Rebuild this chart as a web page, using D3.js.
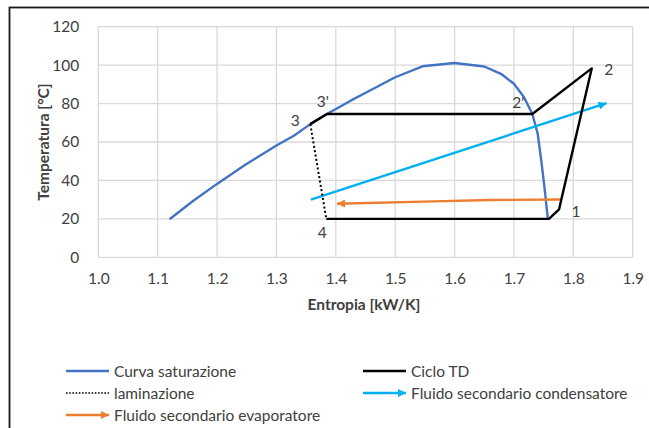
<!DOCTYPE html>
<html lang="it">
	<head>
		<meta charset="utf-8">
		<title>Diagramma T-s</title>
		<script src="https://d3js.org/d3.v7.min.js"></script>
		<style>
			body { margin: 0; background: #fff; }
			text { font-family: Lato, "Open Sans", sans-serif; fill: #404040; }
		</style>
	</head>
	<body>
		<script type="text/javascript">

			// Dati
			var satS = [1.12, 1.16, 1.20, 1.245, 1.30, 1.33, 1.357, 1.385, 1.425, 1.46, 1.50, 1.546, 1.60, 1.65, 1.678, 1.70, 1.717, 1.731, 1.740, 1.746, 1.752, 1.757];
			var satT = [19.8, 29.4, 38.2, 47.6, 58.2, 63.4, 69.3, 74.6, 81.5, 87.2, 93.7, 99.4, 101.1, 99.3, 95.5, 90.3, 83.3, 74.6, 64.3, 50.4, 34.8, 20.3];

			var cicloS = [1.384, 1.759, 1.776, 1.831, 1.731, 1.385, 1.357];
			var cicloT = [20, 20, 25, 98.3, 74.6, 74.6, 69.3];
			var puntiNomi = ["4", "1", "2", "2'", "3'", "3"];
			var puntiIdx = [0, 2, 3, 4, 5, 6];

			var lamS = [1.357, 1.384];
			var lamT = [69.3, 20];

			var condS = [1.358, 1.856];
			var condT = [30, 80.2];

			var evapS = [1.778, 1.66, 1.565, 1.402];
			var evapT = [30.1, 29.8, 29.1, 27.9];

			var xTicks = [1.0, 1.1, 1.2, 1.3, 1.4, 1.5, 1.6, 1.7, 1.8, 1.9];
			var yTicks = [0, 20, 40, 60, 80, 100, 120];

			var legendNames = ["Curva saturazione", "Ciclo TD", "laminazione", "Fluido secondario condensatore", "Fluido secondario evaporatore"];

			// Dimensioni
			var w = 649;
			var h = 428;

			var x = d3.scaleLinear().domain([1.0, 1.9]).range([98.3, 632.7]);
			var y = d3.scaleLinear().domain([0, 120]).range([257.3, 26.7]);

			var svg = d3.select("body")
						.append("svg")
						.attr("width", w)
						.attr("height", h);

			svg.append("rect")
				.attr("width", w)
				.attr("height", h)
				.attr("fill", "white");

			// bordo del grafico (esce dall'immagine a destra e in basso)
			svg.append("rect")
				.attr("x", 9.5)
				.attr("y", 7.5)
				.attr("width", 700)
				.attr("height", 500)
				.attr("fill", "none")
				.attr("stroke", "#1a1a1a")
				.attr("stroke-width", 1.8);

			// frecce
			var defs = svg.append("defs");
			[["cyanArrow", "#00B0F0"], ["orangeArrow", "#ED7D31"]].forEach(function(a) {
				defs.append("marker")
					.attr("id", a[0])
					.attr("viewBox", "0 0 10 10")
					.attr("refX", 10)
					.attr("refY", 5)
					.attr("markerUnits", "userSpaceOnUse")
					.attr("markerWidth", 10)
					.attr("markerHeight", 8)
					.attr("orient", "auto")
					.append("path")
					.attr("d", "M0,0 L10,5 L0,10 Z")
					.attr("fill", a[1]);
			});

			// griglia
			var grid = svg.append("g");
			grid.selectAll(".gx")
				.data(xTicks)
				.enter().append("line")
				.attr("x1", d => x(d)).attr("x2", d => x(d))
				.attr("y1", y(120)).attr("y2", y(0))
				.attr("stroke", "#d9d9d9").attr("stroke-width", 1.3);
			grid.selectAll(".gy")
				.data(yTicks)
				.enter().append("line")
				.attr("x1", x(1.0)).attr("x2", x(1.9))
				.attr("y1", d => y(d)).attr("y2", d => y(d))
				.attr("stroke", "#d9d9d9").attr("stroke-width", 1.3);

			// assi
			var xAxis = svg.append("g")
				.attr("transform", "translate(0," + (y(0) + 13) + ")")
				.call(d3.axisBottom(x).tickValues(xTicks).tickFormat(d3.format(".1f")).tickSize(0));
			var yAxis = svg.append("g")
				.attr("transform", "translate(" + (x(1.0) - 16) + ",0)")
				.call(d3.axisLeft(y).tickValues(yTicks).tickSize(0));
			[xAxis, yAxis].forEach(function(g) {
				g.select(".domain").remove();
				g.selectAll("text")
					.attr("font-size", 15.5)
					.attr("fill", "#404040")
					.style("font-family", "Lato, sans-serif");
			});

			svg.append("text")
				.attr("x", 364)
				.attr("y", 304)
				.attr("text-anchor", "middle")
				.attr("dominant-baseline", "central")
				.attr("font-size", 15.5)
				.attr("font-weight", "bold")
				.text("Entropia [kW/K]");

			svg.append("text")
				.attr("transform", "translate(43,142) rotate(-90)")
				.attr("text-anchor", "middle")
				.attr("dominant-baseline", "central")
				.attr("font-size", 15.5)
				.attr("font-weight", "bold")
				.text("Temperatura [°C]");

			// linee
			var line = d3.line().x(d => x(d[0])).y(d => y(d[1]));
			var plot = svg.append("g").attr("fill", "none");

			plot.append("path")
				.attr("d", line(d3.zip(satS, satT)))
				.attr("stroke", "#4472C4").attr("stroke-width", 2.4)
				.attr("stroke-linejoin", "round");

			plot.append("path")
				.attr("d", line(d3.zip(condS, condT)))
				.attr("stroke", "#00B0F0").attr("stroke-width", 2.4)
				.attr("marker-end", "url(#cyanArrow)");

			plot.append("path")
				.attr("d", line(d3.zip(evapS, evapT)))
				.attr("stroke", "#ED7D31").attr("stroke-width", 2.4)
				.attr("marker-end", "url(#orangeArrow)");

			plot.append("path")
				.attr("d", line(d3.zip(lamS, lamT)))
				.attr("stroke", "#000").attr("stroke-width", 2)
				.attr("stroke-dasharray", "2,2.4");

			plot.append("path")
				.attr("d", line(d3.zip(cicloS, cicloT)))
				.attr("stroke", "#000").attr("stroke-width", 2.4)
				.attr("stroke-linejoin", "round");

			// etichette dei punti (offset in pixel)
			var offs = [[-4, 13], [17, 2], [17, 1], [-14, -12], [-4, -13], [-15, -4]];
			svg.selectAll(".pt")
				.data(puntiNomi)
				.enter().append("text")
				.attr("x", (d, i) => x(cicloS[puntiIdx[i]]) + offs[i][0])
				.attr("y", (d, i) => y(cicloT[puntiIdx[i]]) + offs[i][1])
				.attr("text-anchor", "middle")
				.attr("dominant-baseline", "central")
				.attr("font-size", 15.5)
				.text(d => d);

			// legenda
			var legPos = [[66, 371], [363, 371], [66, 393], [363, 393], [66, 415]];
			var legStyle = [
				{c: "#4472C4", dash: null, arrow: null},
				{c: "#000", dash: null, arrow: null},
				{c: "#000", dash: "1.6,1.6", arrow: null},
				{c: "#00B0F0", dash: null, arrow: "cyanArrow"},
				{c: "#ED7D31", dash: null, arrow: "orangeArrow"}
			];
			var leg = svg.selectAll(".leg")
				.data(legendNames)
				.enter().append("g")
				.attr("transform", (d, i) => "translate(" + legPos[i][0] + "," + legPos[i][1] + ")");
			leg.append("line")
				.attr("x1", 0).attr("x2", 43)
				.attr("stroke", (d, i) => legStyle[i].c)
				.attr("stroke-width", (d, i) => legStyle[i].dash ? 1.6 : 2.4)
				.attr("stroke-dasharray", (d, i) => legStyle[i].dash)
				.attr("marker-end", (d, i) => legStyle[i].arrow ? "url(#" + legStyle[i].arrow + ")" : null);
			leg.append("text")
				.attr("x", 48)
				.attr("dominant-baseline", "central")
				.attr("font-size", 15.5)
				.text(d => d);

		</script>
	</body>
</html>
